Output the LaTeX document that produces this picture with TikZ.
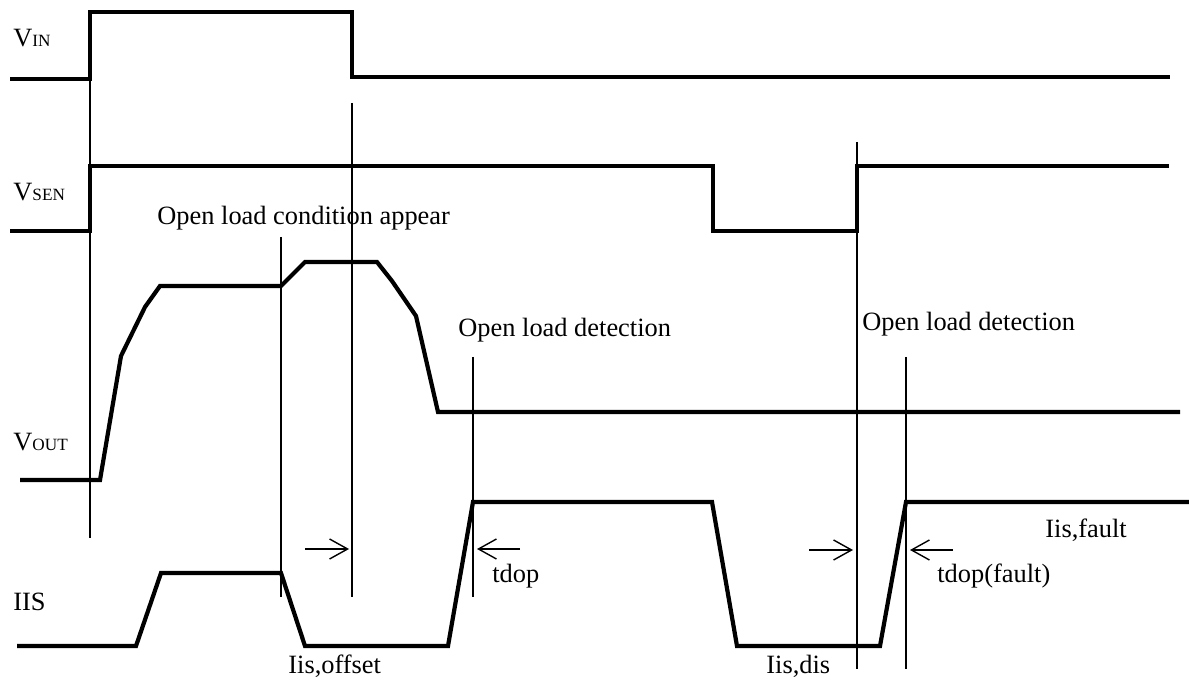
\documentclass[tikz,border=0pt]{standalone}
\usepackage{fontspec}
\setmainfont{Liberation Serif}
\usetikzlibrary{arrows.meta}
\newcommand\smallpart[1]{{\fontsize{8.6}{10}\selectfont #1}}
\begin{document}
\begin{tikzpicture}[x=0.5pt,y=-0.5pt,
  wave/.style={line width=2.1pt},
  marker/.style={line width=0.7pt},
  dimarrow/.style={line width=0.7pt,-{Straight Barb[length=9pt,width=10pt,line width=0.7pt]}},
  lbl/.style={anchor=base west,inner sep=0pt,font=\fontsize{13.2}{15}\selectfont}]
\useasboundingbox (0,0) rectangle (1189,684);
% waveforms
\draw[wave] (10,79) -- (90,79) -- (90,12) -- (352,12) -- (352,77) -- (1170,77);
\draw[wave] (10,231) -- (90,231) -- (90,166) -- (713,166) -- (713,231) -- (857,231) -- (857,166) -- (1169,166);
\draw[wave] (20,480) -- (100,480) -- (121,356) -- (145,307) -- (160,286) -- (281,286) -- (305,262) -- (377,262) -- (392,281) -- (416,316) -- (438,412) -- (1180,412);
\draw[wave] (17,646) -- (136,646) -- (161,573) -- (281,573) -- (305,646) -- (448,646) -- (473,502) -- (712,502) -- (737,646) -- (880,646) -- (906,502) -- (1189,502);
% marker lines
\coordinate (m1t) at (90,12);   \coordinate (m1b) at (90,538);
\coordinate (m2t) at (281,237); \coordinate (m2b) at (281,597);
\coordinate (m3t) at (352,103); \coordinate (m3b) at (352,597);
\coordinate (m4t) at (473,357); \coordinate (m4b) at (473,597);
\coordinate (m5t) at (857,142); \coordinate (m5b) at (857,669);
\coordinate (m6t) at (906,357); \coordinate (m6b) at (906,669);
\foreach \m in {1,...,6} \draw[marker] (m\m t) -- (m\m b);
% dimension arrows
\coordinate (a1s) at (305,549); \coordinate (a1e) at (349,549);
\coordinate (a2s) at (520,549); \coordinate (a2e) at (477,549);
\coordinate (a3s) at (809,550); \coordinate (a3e) at (853,550);
\coordinate (a4s) at (953,550); \coordinate (a4e) at (910,550);
\foreach \a in {1,...,4} \draw[dimarrow] (a\a s) -- (a\a e);
% labels
\node[lbl] (vin)  at (13,47)  {V\smallpart{IN}};
\node[lbl] (vsen) at (13,201) {V\smallpart{SEN}};
\node[lbl] (vout) at (13,450) {V\smallpart{OUT}};
\node[lbl] (iis)  at (13,610) {IIS};
\node[lbl] (olca) at (157,225) {Open load condition appear};
\node[lbl] (old1) at (458,336) {Open load detection};
\node[lbl] (old2) at (862,330) {Open load detection};
\node[lbl] (tdop) at (492,582) {tdop};
\node[lbl] (tdopf) at (937,582) {tdop(fault)};
\node[lbl] (ioff) at (288,673) {Iis,offset};
\node[lbl] (idis) at (766,673) {Iis,dis};
\node[lbl] (ifault) at (1045,537) {Iis,fault};
\end{tikzpicture}
\end{document}
